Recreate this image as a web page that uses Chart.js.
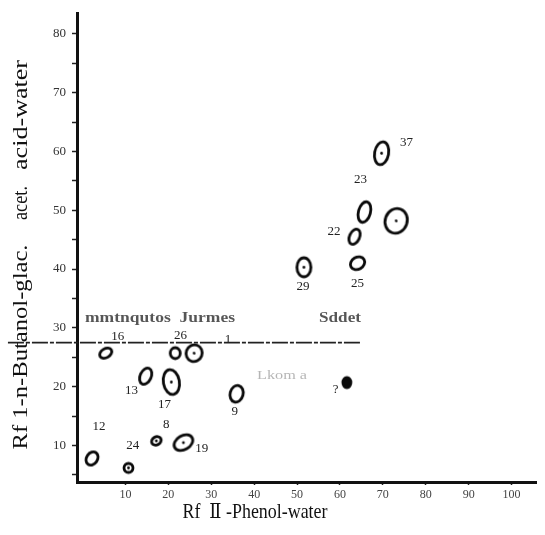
<!DOCTYPE html>
<html>
<head>
<meta charset="utf-8">
<script src="https://cdn.jsdelivr.net/npm/chart.js@4.4.1/dist/chart.umd.min.js"></script>
<style>
  html, body { margin: 0; padding: 0; background: #fff; }
  canvas { display: block; }
</style>
</head>
<body>
<canvas id="chartSpots" width="545" height="535"></canvas>
<script>
// spot positions (Rf x100)
const spotX = [69.7, 65.7, 73.1, 63.4, 64.1, 51.6, 5.4, 21.6, 26.0, 14.7, 20.7, 35.9, 17.2, 23.5, 2.2, 10.7, 61.6];
const spotY = [59.7, 49.7, 48.2, 45.5, 41.0, 40.3, 25.7, 25.7, 25.7, 21.8, 20.8, 18.8, 10.8, 10.5, 7.8, 6.2, 20.7];

// spot numbers and where they are written
const labelText = ["37", "23", "22", "25", "29", "16", "26", "1", "13", "17", "9", "12", "8", "24", "19", "?"];
const labelX = [75.5, 64.8, 58.6, 64.1, 51.4, 8.2, 22.8, 33.9, 11.4, 19.1, 35.5, 3.8, 19.5, 11.7, 27.8, 59.0];
const labelY = [61.5, 55.3, 46.3, 37.5, 37.0, 28.5, 28.7, 28.0, 19.3, 17.0, 15.8, 13.3, 13.5, 10.0, 9.5, 19.5];

// solvent front line
const frontX = [-17.4, 64.8];
const frontY = [27.5, 27.5];

const xTicks = [10, 20, 30, 40, 50, 60, 70, 80, 90, 100];
const yTicks = [10, 20, 30, 40, 50, 60, 70, 80];

// outline shape of each spot: [rx, ry, rotation deg, centre dot, filled]
const spotShapes = [
    [7, 11.5, 10, true, false],
    [6, 10.5, 15, false, false],
    [11, 12.5, 20, true, false],
    [5, 8, 25, false, false],
    [7.5, 6, -30, false, false],
    [7, 9.5, 0, true, false],
    [6.5, 4.5, -30, false, false],
    [5, 5.5, 0, false, false],
    [8, 8.5, 20, true, false],
    [5.5, 8.5, 25, false, false],
    [8, 12.5, -10, true, false],
    [6.5, 8.5, 15, false, false],
    [5, 4, -30, true, false],
    [10, 7, -30, true, false],
    [5.5, 7, 35, false, false],
    [4.5, 4.5, 0, true, false],
    [4, 5, 0, false, true],
];

const SERIF = "'Liberation Serif', 'DejaVu Serif', serif";

function makeSpot([rx, ry, rot, dot, filled]) {
    const size = Math.ceil(Math.max(rx, ry) * 2 + 8);
    const c = document.createElement("canvas");
    c.width = size;
    c.height = size;
    const g = c.getContext("2d");
    g.translate(size / 2, size / 2);
    g.rotate((rot * Math.PI) / 180);
    g.beginPath();
    g.ellipse(0, 0, rx, ry, 0, 0, Math.PI * 2);
    g.lineWidth = 2.8;
    g.strokeStyle = "#0a0a0a";
    if (filled) {
        g.fillStyle = "#0a0a0a";
        g.fill();
    }
    g.stroke();
    if (dot) {
        g.beginPath();
        g.arc(0, 0, 1.4, 0, Math.PI * 2);
        g.fillStyle = "#0a0a0a";
        g.fill();
    }
    return c;
}

// fits text to a given length in pixels
function fitText(ctx, text, cx, cy, length) {
    const w = ctx.measureText(text).width;
    ctx.save();
    ctx.translate(cx, cy);
    ctx.scale(length / w, 1);
    ctx.fillText(text, 0, 0);
    ctx.restore();
}

const textPlugin = {
    id: "textPlugin",
    afterDatasetsDraw(chart) {
        const ctx = chart.ctx;
        const xs = chart.scales.x;
        const ys = chart.scales.y;
        ctx.save();

        // show-through from the back of the page
        ctx.fillStyle = "rgba(30,30,30,0.75)";
        ctx.font = "bold 14px " + SERIF;
        ctx.textBaseline = "middle";
        ctx.textAlign = "center";
        fitText(ctx, "mmtnqutos  Jurmes", 160, 318, 150);
        fitText(ctx, "Sddet", 340, 318, 42);
        ctx.fillStyle = "rgba(90,90,90,0.45)";
        ctx.font = "12px " + SERIF;
        fitText(ctx, "Lkom a", 282, 376, 50);

        // spot numbers
        ctx.fillStyle = "#222";
        ctx.font = "13px " + SERIF;
        labelText.forEach((t, i) => {
            ctx.fillText(t, xs.getPixelForValue(labelX[i]), ys.getPixelForValue(labelY[i]));
        });

        // axis titles
        ctx.fillStyle = "#111";
        ctx.font = "21px " + SERIF;
        fitText(ctx, "Rf  Ⅱ -Phenol-water", 255, 512, 145);

        ctx.translate(21, 0);
        ctx.rotate(-Math.PI / 2);
        ctx.font = "21px " + SERIF;
        fitText(ctx, "Rf 1-n-Butanol-glac.", -347, 0, 205);
        fitText(ctx, "acet.", -203, 0, 34);
        fitText(ctx, "acid-water", -115, 0, 110);
        ctx.restore();
    },
};

const ctx = document.getElementById("chartSpots").getContext("2d");

new Chart(ctx, {
    type: "scatter",
    data: {
        datasets: [
            {
                data: frontX.map((x, i) => ({ x, y: frontY[i] })),
                showLine: true,
                borderColor: "#222",
                borderWidth: 1.8,
                borderDash: [16, 2, 4, 2],
                pointRadius: 0,
                clip: false,
            },
            {
                data: spotX.map((x, i) => ({ x, y: spotY[i] })),
                pointStyle: spotShapes.map(makeSpot),
                pointRadius: 8,
            },
        ],
    },
    options: {
        responsive: false,
        animation: false,
        events: [],
        layout: { padding: { top: 5, right: 5, left: 0, bottom: 0 } },
        plugins: {
            legend: { display: false },
            tooltip: { enabled: false },
        },
        scales: {
            x: {
                type: "linear",
                min: -1.3,
                max: 105.7,
                afterFit: (scale) => { scale.height = 53; },
                afterBuildTicks: (scale) => {
                    scale.ticks = xTicks.map((value) => ({ value }));
                },
                border: { color: "#111", width: 3 },
                grid: { drawOnChartArea: false, tickLength: 3, tickColor: "#222", tickWidth: 1.5 },
                ticks: {
                    padding: 3,
                    color: "#444",
                    font: { family: SERIF, size: 12 },
                    maxRotation: 0,
                },
            },
            y: {
                type: "linear",
                min: 3.8,
                max: 83.4,
                afterFit: (scale) => { scale.width = 77; },
                afterBuildTicks: (scale) => {
                    const t = [];
                    for (let v = 5; v <= 80; v += 5) t.push({ value: v });
                    scale.ticks = t;
                },
                border: { color: "#111", width: 3 },
                grid: { drawOnChartArea: false, tickLength: 5, tickColor: "#222", tickWidth: 1.5 },
                ticks: {
                    padding: 6,
                    color: "#333",
                    font: { family: SERIF, size: 13 },
                    callback: (v) => (yTicks.includes(v) ? v : ""),
                },
            },
        },
    },
    plugins: [textPlugin],
});
</script>
</body>
</html>
